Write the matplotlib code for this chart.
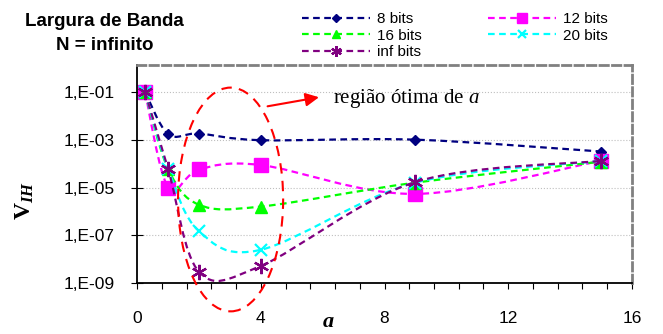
import numpy as np
import matplotlib
matplotlib.use("Agg")
import matplotlib.pyplot as plt
from matplotlib.path import Path
from matplotlib.patches import PathPatch, Ellipse
from matplotlib.lines import Line2D
from matplotlib.ticker import FixedLocator, MultipleLocator, NullLocator
from matplotlib.transforms import blended_transform_factory

# data
a_vals = [0.25, 1, 2, 4, 9, 15]
v_8bits = [1e-1, 1.7e-3, 1.8e-3, 9.5e-4, 1.0e-3, 3.2e-4]
v_12bits = [1e-1, 1.0e-5, 5.7e-5, 8.7e-5, 5.4e-6, 1.3e-4]
v_16bits = [1e-1, 5.9e-5, 1.9e-6, 1.6e-6, 1.6e-5, 1.2e-4]
v_20bits = [1e-1, 5.9e-5, 1.5e-7, 2.5e-8, 1.6e-5, 1.3e-4]
v_infbits = [1e-1, 5.9e-5, 3.0e-9, 5.3e-9, 1.7e-5, 1.3e-4]
series_names = ["8 bits", "12 bits", "16 bits", "20 bits", "inf bits"]

y_ticks = [1e-9, 1e-7, 1e-5, 1e-3, 1e-1]
y_tick_labels = ["1,E-09", "1,E-07", "1,E-05", "1,E-03", "1,E-01"]
x_ticks = [0, 4, 8, 12, 16]

plt.rcParams['font.family'] = 'Liberation Sans'
plt.rcParams['mathtext.fontset'] = 'custom'
plt.rcParams['mathtext.rm'] = 'Liberation Serif'
plt.rcParams['mathtext.it'] = 'Liberation Serif:italic'
plt.rcParams['mathtext.bf'] = 'Liberation Serif:bold'
plt.rcParams['mathtext.bfit'] = 'Liberation Serif:italic:bold'

styles = [
    dict(color='#000080', marker='D', ms=5.5, mew=1),
    dict(color='#FF00FF', marker='s', ms=9.5, mew=1),
    dict(color='#00FF00', marker='^', ms=9, mew=1),
    dict(color='#00FFFF', marker='x', ms=8, mew=1.6),
    dict(color='#800080', marker=(6, 2, 0), ms=11, mew=1.6),
]


def smooth_path(xs, ys):
    # Excel-like smoothed line: cubic bezier through the points (log y space)
    pts = np.column_stack([np.asarray(xs, float), np.log10(ys)])
    n = len(pts)
    verts = [pts[0]]
    codes = [Path.MOVETO]
    for i in range(n - 1):
        p0 = pts[i - 1] if i > 0 else pts[i]
        p1, p2 = pts[i], pts[i + 1]
        p3 = pts[i + 2] if i + 2 < n else pts[i + 1]
        verts += [p1 + (p2 - p0) / 6, p2 - (p3 - p1) / 6, p2]
        codes += [Path.CURVE4] * 3
    verts = np.array(verts)
    verts[:, 1] = 10 ** verts[:, 1]
    return Path(verts, codes)


fig = plt.figure(figsize=(6.63, 3.34), dpi=100)
ax = fig.add_axes([0.207, 0.152, 0.746, 0.653])
ax.set_yscale('log')

all_series = [v_8bits, v_12bits, v_16bits, v_20bits, v_infbits]
handles = []
for i, (vals, st, name) in enumerate(zip(all_series, styles, series_names)):
    patch = PathPatch(smooth_path(a_vals, vals), fill=False, edgecolor=st['color'],
                      lw=1.6, linestyle=(0, (3, 2)), zorder=2 + i * 0.1)
    ax.add_patch(patch)
    ax.plot(a_vals, vals, ls='none', marker=st['marker'], ms=st['ms'],
            mew=st['mew'], color=st['color'], zorder=2.05 + i * 0.1)
    handles.append(Line2D([], [], color=st['color'], lw=1.6, ls=(0, (3, 2)),
                          marker=st['marker'], ms=st['ms'] * 0.7, mew=st['mew']))

ax.set_xlim(0, 16)
ax.set_ylim(1e-9, 10 ** 0.115)
ax.xaxis.set_major_locator(FixedLocator(x_ticks))
ax.xaxis.set_minor_locator(MultipleLocator(0.8))
ax.yaxis.set_major_locator(FixedLocator(y_ticks))
ax.yaxis.set_minor_locator(NullLocator())
ax.set_yticklabels(y_tick_labels)
ax.tick_params(axis='x', which='both', direction='out', length=4, width=0.8, pad=16, labelsize=12.5)
ax.tick_params(axis='y', which='major', direction='inout', length=8, width=0.8, pad=12, labelsize=12.5)
ax.yaxis.grid(True, color='#BFBFBF', ls=':', lw=0.8)

for side in ['top', 'right']:
    ax.spines[side].set_color('#808080')
    ax.spines[side].set_linewidth(2)
    ax.spines[side].set_linestyle((0, (3, 1.5)))
for side in ['left', 'bottom']:
    ax.spines[side].set_color('black')
    ax.spines[side].set_linewidth(1.3)
    ax.spines[side].set_linestyle((0, (6, 1)))

ax.set_xlabel('a', fontsize=16, family='Liberation Serif', style='italic',
              weight='bold', va='baseline')
ax.xaxis.set_label_coords(0.386, -0.2)
ax.set_ylabel(r'$\mathbf{V}_{\mathbfit{IH}}$', fontsize=17)
ax.yaxis.set_label_coords(-0.205, 0.38)

# optimum-region ellipse and annotation
tr = blended_transform_factory(ax.transData, ax.transAxes)
ell = Ellipse((3.02, 0.384), width=3.4, height=1.026, transform=tr, fill=False,
              edgecolor='red', lw=1.5, linestyle=(0, (5, 3.5)), clip_on=False, zorder=5)
ax.add_patch(ell)
ax.annotate('', xy=(0.373, 0.855), xytext=(0.258, 0.809), xycoords='axes fraction',
            arrowprops=dict(arrowstyle='-|>', color='red', lw=1.5, mutation_scale=20))
ax.text(0.396, 0.845, r'região ótima de $\mathit{a}$', transform=ax.transAxes,
        fontsize=15, family='Liberation Serif', va='center', ha='left')

fig.text(0.158, 0.9, 'Largura de Banda\nN = infinito', ha='center', va='center',
         fontsize=13.5, fontweight='bold', linespacing=1.55)

order = [0, 2, 4, 1, 3]
fig.legend([handles[k] for k in order], [series_names[k] for k in order],
           loc='upper left', bbox_to_anchor=(0.455, 0.963), ncol=2, frameon=False,
           borderpad=0, borderaxespad=0, handlelength=4.5, handletextpad=0.45,
           columnspacing=4.3, labelspacing=0.15, fontsize=11)

fig.savefig('out.png', dpi=100)
